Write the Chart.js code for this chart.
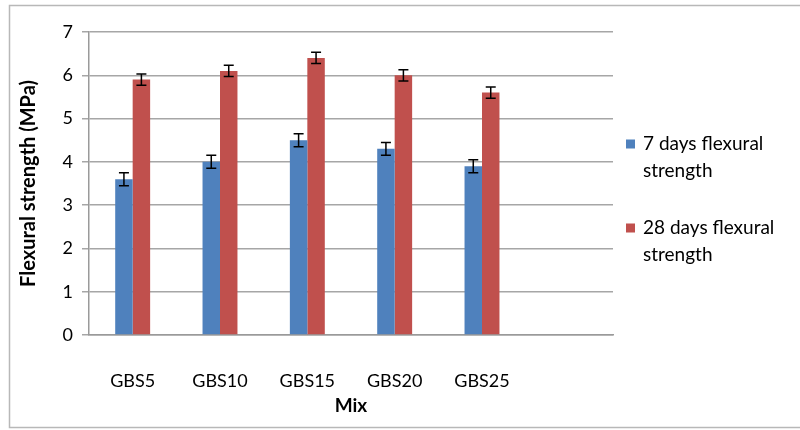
<!DOCTYPE html>
<html>
<head>
<meta charset="utf-8">
<script src="https://cdn.jsdelivr.net/npm/chart.js@4/dist/chart.umd.min.js"></script>
<style>
  html, body { margin: 0; padding: 0; background: #fff; }
  #wrap { width: 800px; height: 430px; position: relative; }
</style>
</head>
<body>
<div id="wrap"><canvas id="chart" width="800" height="430"></canvas></div>
<script>
// --- DATA ---
const mixLabels = ['GBS5', 'GBS10', 'GBS15', 'GBS20', 'GBS25', ''];
const days7 = [3.6, 4.0, 4.5, 4.3, 3.9, null];
const days28 = [5.9, 6.1, 6.4, 6.0, 5.6, null];
const err7 = [0.15, 0.15, 0.15, 0.15, 0.15, null];
const err28 = [0.13, 0.13, 0.13, 0.13, 0.13, null];
const yTicks = [0, 1, 2, 3, 4, 5, 6, 7];
const seriesNames = [['7 days flexural', 'strength'], ['28 days flexural', 'strength']];

const BLUE = '#4F81BD';
const RED = '#C0504D';
const FONT = "Lato, 'Liberation Sans', sans-serif";

// outer frame around the chart
const framePlugin = {
    id: 'frame',
    beforeDraw(chart) {
        const ctx = chart.ctx;
        ctx.save();
        ctx.strokeStyle = '#b8b8b8';
        ctx.lineWidth = 1.5;
        ctx.strokeRect(9.5, 5.5, 820, 422);
        ctx.restore();
    }
};

// error bars drawn from the y scale
const errorBarPlugin = {
    id: 'errorBars',
    afterDatasetsDraw(chart) {
        const ctx = chart.ctx;
        const y = chart.scales.y;
        const errs = [err7, err28];
        ctx.save();
        ctx.strokeStyle = '#000';
        ctx.lineWidth = 1.5;
        chart.data.datasets.forEach((ds, i) => {
            const meta = chart.getDatasetMeta(i);
            meta.data.forEach((bar, j) => {
                const v = ds.data[j];
                const e = errs[i][j];
                if (v == null || e == null) return;
                const x = bar.x;
                const top = y.getPixelForValue(v + e);
                const bot = y.getPixelForValue(v - e);
                ctx.beginPath();
                ctx.moveTo(x, top); ctx.lineTo(x, bot);
                ctx.moveTo(x - 5, top); ctx.lineTo(x + 5, top);
                ctx.moveTo(x - 5, bot); ctx.lineTo(x + 5, bot);
                ctx.stroke();
            });
        });
        ctx.restore();
    }
};

// two-line legend on the right
const legendPlugin = {
    id: 'sideLegend',
    afterDraw(chart) {
        const ctx = chart.ctx;
        const colors = [BLUE, RED];
        const tops = [144, 228];
        ctx.save();
        ctx.font = '19px ' + FONT;
        ctx.textBaseline = 'middle';
        seriesNames.forEach((lines, i) => {
            ctx.fillStyle = colors[i];
            ctx.fillRect(626, tops[i] - 4.5, 9, 9);
            ctx.fillStyle = '#000';
            lines.forEach((t, k) => ctx.fillText(t, 643, tops[i] + k * 27));
        });
        ctx.restore();
    }
};

new Chart(document.getElementById('chart'), {
    type: 'bar',
    data: {
        labels: mixLabels,
        datasets: [
            { label: seriesNames[0].join(' '), data: days7, backgroundColor: BLUE },
            { label: seriesNames[1].join(' '), data: days28, backgroundColor: RED }
        ]
    },
    options: {
        responsive: false,
        animation: false,
        layout: { padding: { left: 0, right: 187, top: 32, bottom: 0 } },
        datasets: { bar: { categoryPercentage: 0.4, barPercentage: 1.0 } },
        plugins: {
            legend: { display: false },
            tooltip: { enabled: false }
        },
        scales: {
            x: {
                grid: { display: false },
                border: { display: true, color: '#9a9a9a', width: 1.5 },
                ticks: { color: '#000', font: { family: FONT, size: 18 }, padding: 27 },
                title: { display: true, text: 'Mix', color: '#000', font: { family: FONT, size: 19, weight: 'bold' }, padding: { top: 0, bottom: 13 } },
                afterFit: s => { s.height = 95; }
            },
            y: {
                min: 0,
                max: 7,
                afterBuildTicks: s => { s.ticks = yTicks.map(v => ({ value: v })); },
                grid: { color: '#a6a6a6', lineWidth: 1.5, tickLength: 7, drawTicks: true },
                border: { display: true, color: '#9a9a9a', width: 1.5 },
                ticks: { color: '#000', font: { family: FONT, size: 18 }, padding: 9 },
                title: { display: true, text: 'Flexural strength (MPa)', color: '#000', font: { family: FONT, size: 20, weight: 'bold' }, padding: { top: 17, bottom: 0 } },
                afterFit: s => { s.width = 89; }
            }
        }
    },
    plugins: [framePlugin, errorBarPlugin, legendPlugin]
});
</script>
</body>
</html>
